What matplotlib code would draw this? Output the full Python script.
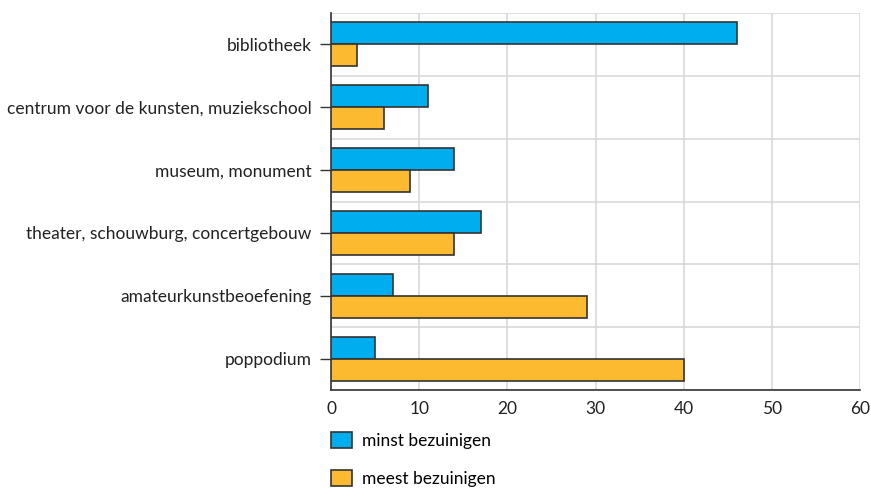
import matplotlib
matplotlib.use("Agg")
import matplotlib.pyplot as plt
import numpy as np
from matplotlib.patches import Patch

categories = ["bibliotheek", "centrum voor de kunsten, muziekschool", "museum, monument",
              "theater, schouwburg, concertgebouw", "amateurkunstbeoefening", "poppodium"]
minst = [46, 11, 14, 17, 7, 5]
meest = [3, 6, 9, 14, 29, 40]
series_labels = ["minst bezuinigen", "meest bezuinigen"]
xticks = [0, 10, 20, 30, 40, 50, 60]

plt.rcParams['font.family'] = ['Lato', 'DejaVu Sans']

fig = plt.figure(figsize=(8.71, 4.88), dpi=100)
ax = fig.add_axes([331/871, 1-390/488, (860-331)/871, (390-13)/488])

blue = "#00AEEF"
orange = "#FBBA30"
edge = "#333333"
n = len(categories)
y = np.arange(n)
h = 0.35
ax.barh(y - h/2, minst, height=h, color=blue, edgecolor=edge, linewidth=1.2, zorder=3, label=series_labels[0])
ax.barh(y + h/2, meest, height=h, color=orange, edgecolor=edge, linewidth=1.2, zorder=3, label=series_labels[1])

ax.set_ylim(n - 0.5, -0.5)
ax.set_xlim(0, 60)
ax.set_yticks(y)
ax.set_yticklabels(categories, fontsize=12.5, color="#222222")
ax.set_yticks(np.arange(n + 1) - 0.5, minor=True)
ax.set_xticks(xticks)
ax.set_xticklabels([str(v) for v in xticks], fontsize=12.5, color="#222222")

ax.tick_params(axis='y', which='major', length=8, width=1, color="#333333", pad=6)
ax.tick_params(axis='y', which='minor', length=0)
ax.tick_params(axis='x', which='major', length=0, pad=8)

ax.grid(axis='x', which='major', color="#d9d9d9", linewidth=1.2, zorder=0)
ax.grid(axis='y', which='minor', color="#d9d9d9", linewidth=1.2, zorder=0)
ax.grid(axis='y', which='major', visible=False)

for s in ["top", "right"]:
    ax.spines[s].set_visible(False)
ax.spines["left"].set_color("#333333")
ax.spines["bottom"].set_color("#333333")
ax.spines["left"].set_linewidth(1.2)
ax.spines["bottom"].set_linewidth(1.2)
ax.set_axisbelow(True)

handles = [Patch(facecolor=blue, edgecolor=edge, linewidth=1.2),
           Patch(facecolor=orange, edgecolor=edge, linewidth=1.2)]
fig.legend(handles, series_labels, loc="upper left", bbox_to_anchor=(331/871, 1-432/488),
           frameon=False, fontsize=12.5, handlelength=1.2, handleheight=1.0,
           labelspacing=1.25, handletextpad=0.6, borderaxespad=0, borderpad=0)

fig.savefig("out.png", dpi=100)
